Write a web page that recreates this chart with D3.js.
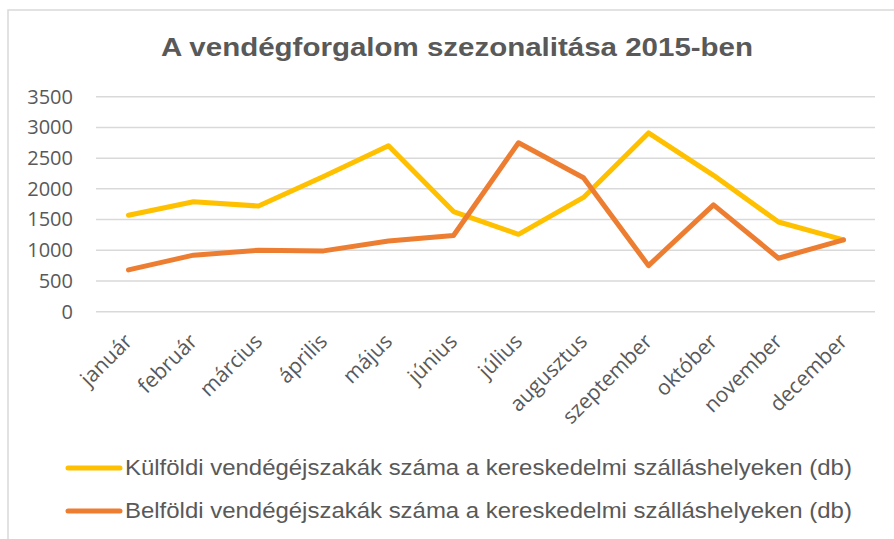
<!DOCTYPE html>
<html>
<head>
<meta charset="utf-8">
<script src="https://cdn.jsdelivr.net/npm/d3@7"></script>
<style>
  html, body { margin: 0; padding: 0; background: #fff; }
  svg { display: block; }
</style>
</head>
<body>
<svg id="chart" width="894" height="539"></svg>
<script>
const title = "A vendégforgalom szezonalitása 2015-ben";
const months = ["január", "február", "március", "április", "május", "június",
                "július", "augusztus", "szeptember", "október", "november", "december"];
const kulfoldi = [1570, 1790, 1720, 2200, 2700, 1630, 1260, 1860, 2910, 2220, 1460, 1170];
const belfoldi = [680, 920, 1000, 990, 1150, 1240, 2750, 2180, 750, 1740, 870, 1170];
const yTicks = [0, 500, 1000, 1500, 2000, 2500, 3000, 3500];
const seriesNames = [
  "Külföldi vendégéjszakák száma a kereskedelmi szálláshelyeken (db)",
  "Belföldi vendégéjszakák száma a kereskedelmi szálláshelyeken (db)"
];
const seriesColors = ["#FFC000", "#ED7D31"];
const series = [kulfoldi, belfoldi];

const svg = d3.select("#chart");
const textColor = "#595959";
const sansFont = "'Liberation Sans', Arial, sans-serif";
const tickFont = "'Open Sans', 'Noto Sans', sans-serif";

// chart border
svg.append("rect")
  .attr("x", 8).attr("y", 10)
  .attr("width", 900).attr("height", 540)
  .attr("fill", "none").attr("stroke", "#d9d9d9").attr("stroke-width", 1.5);

// title
svg.append("text")
  .attr("transform", "translate(457,56) scale(1.18,1)")
  .attr("text-anchor", "middle")
  .attr("font-family", sansFont)
  .attr("font-weight", "bold")
  .attr("font-size", 25)
  .attr("fill", textColor)
  .text(title);

const x = d3.scaleBand().domain(months).range([96, 876]);
const y = d3.scaleLinear().domain([0, 3500]).range([311.7, 96.7]);

// gridlines
svg.append("g")
  .selectAll("line")
  .data(yTicks)
  .join("line")
  .attr("x1", 96).attr("x2", 875)
  .attr("y1", d => y(d)).attr("y2", d => y(d))
  .attr("stroke", "#d9d9d9").attr("stroke-width", 1.5);

// y axis
const yAxis = svg.append("g")
  .attr("transform", "translate(96,0)")
  .call(d3.axisLeft(y).tickValues(yTicks).tickSize(0).tickPadding(23).tickFormat(d3.format("d")));
yAxis.select(".domain").remove();
yAxis.attr("font-family", null).attr("font-size", null);
yAxis.selectAll("text")
  .style("font-family", tickFont)
  .style("font-size", "20px")
  .attr("fill", textColor);

// x axis
const xAxis = svg.append("g")
  .attr("transform", "translate(0,311.7)")
  .call(d3.axisBottom(x).tickSize(0));
xAxis.select(".domain").remove();
xAxis.attr("font-family", null).attr("font-size", null);
xAxis.selectAll("text")
  .style("font-family", tickFont)
  .style("font-size", "21px")
  .attr("fill", textColor)
  .attr("text-anchor", "end")
  .attr("dy", null)
  .attr("y", null)
  .attr("transform", "translate(5,31) rotate(-45)");

// lines
const line = d3.line()
  .x((d, i) => x(months[i]) + x.bandwidth() / 2)
  .y(d => y(d));

series.forEach((s, k) => {
  svg.append("path")
    .datum(s)
    .attr("d", line)
    .attr("fill", "none")
    .attr("stroke", seriesColors[k])
    .attr("stroke-width", 5)
    .attr("stroke-linejoin", "round")
    .attr("stroke-linecap", "round");
});

// legend
const legend = svg.append("g");
seriesNames.forEach((name, k) => {
  const ly = 468 + k * 43;
  legend.append("line")
    .attr("x1", 68).attr("x2", 120)
    .attr("y1", ly).attr("y2", ly)
    .attr("stroke", seriesColors[k])
    .attr("stroke-width", 5)
    .attr("stroke-linecap", "round");
  legend.append("text")
    .attr("transform", `translate(125,${ly + 7}) scale(1.115,1)`)
    .attr("font-family", sansFont)
    .attr("font-size", 21.5)
    .attr("fill", textColor)
    .text(name);
});
</script>
</body>
</html>
